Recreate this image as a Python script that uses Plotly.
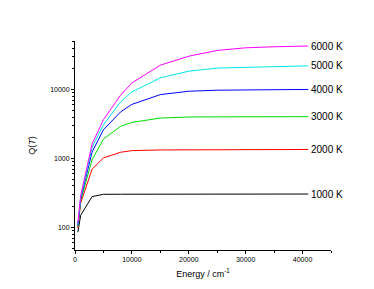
import math
import plotly.graph_objects as go

energy = [500, 1000, 3000, 5000, 8000, 10000, 15000, 20000, 25000, 30000, 35000, 40000, 41000]

q_1000K = [85, 150, 280, 302, 303, 303, 303, 303, 304, 304, 305, 305, 305]
q_2000K = [98, 225, 700, 1020, 1230, 1300, 1330, 1340, 1345, 1348, 1350, 1352, 1352]
q_3000K = [102, 245, 960, 1910, 2925, 3340, 3860, 4000, 4020, 4030, 4035, 4040, 4040]
q_4000K = [106, 260, 1240, 2610, 4730, 6100, 8450, 9460, 9800, 9950, 10000, 10050, 10050]
q_5000K = [110, 275, 1450, 3090, 6620, 9250, 14800, 18500, 20500, 21100, 21600, 22100, 22100]
q_6000K = [115, 290, 1620, 3660, 8260, 12500, 22600, 30500, 37000, 40400, 41800, 42800, 42900]

series_names = ["1000 K", "2000 K", "3000 K", "4000 K", "5000 K", "6000 K"]
series_values = [q_1000K, q_2000K, q_3000K, q_4000K, q_5000K, q_6000K]
series_colors = ["#000000", "#ff0000", "#00dd00", "#0000ff", "#00e5e5", "#ff00ff"]

x_tickvals = [0, 10000, 20000, 30000, 40000]
y_tickvals = [100, 1000, 10000]

FONT = "Liberation Sans, Arial, sans-serif"

fig = go.Figure()
for name, vals, col in zip(series_names, series_values, series_colors):
    fig.add_trace(go.Scatter(x=energy, y=vals, mode="lines", name=name,
                             line=dict(color=col, width=1)))
    fig.add_annotation(x=energy[-1], y=math.log10(vals[-1]),
                       text=name, showarrow=False, xanchor="left", yanchor="middle",
                       xshift=1, font=dict(family=FONT, size=10, color="#000000"))

fig.update_layout(
    width=374, height=289,
    margin=dict(l=67, r=51, t=33, b=47),
    paper_bgcolor="white", plot_bgcolor="white",
    showlegend=False,
    font=dict(family=FONT, size=7, color="#000000"),
)
fig.update_xaxes(
    range=[0, 45000], tickvals=x_tickvals, ticktext=[str(v) for v in x_tickvals],
    showgrid=False, zeroline=False, showline=True, linecolor="black", linewidth=1,
    ticks="outside", ticklen=3, tickcolor="black",
    minor=dict(ticks="outside", ticklen=2, dtick=5000, tickcolor="black"),
    tickfont=dict(size=7),
    title=dict(text="Energy / cm<sup>-1</sup>", font=dict(size=9), standoff=8),
)
fig.update_yaxes(
    type="log", range=[1.672, 4.705], tickvals=y_tickvals, ticktext=[str(v) for v in y_tickvals],
    showgrid=False, zeroline=False, showline=True, linecolor="black", linewidth=1,
    ticks="outside", ticklen=3, tickcolor="black",
    minor=dict(ticks="outside", ticklen=2, dtick="D1", tickcolor="black"),
    tickfont=dict(size=7),
    title=dict(text="Q(<i>T</i>)", font=dict(size=9), standoff=12),
)

fig.write_html("out.html")
